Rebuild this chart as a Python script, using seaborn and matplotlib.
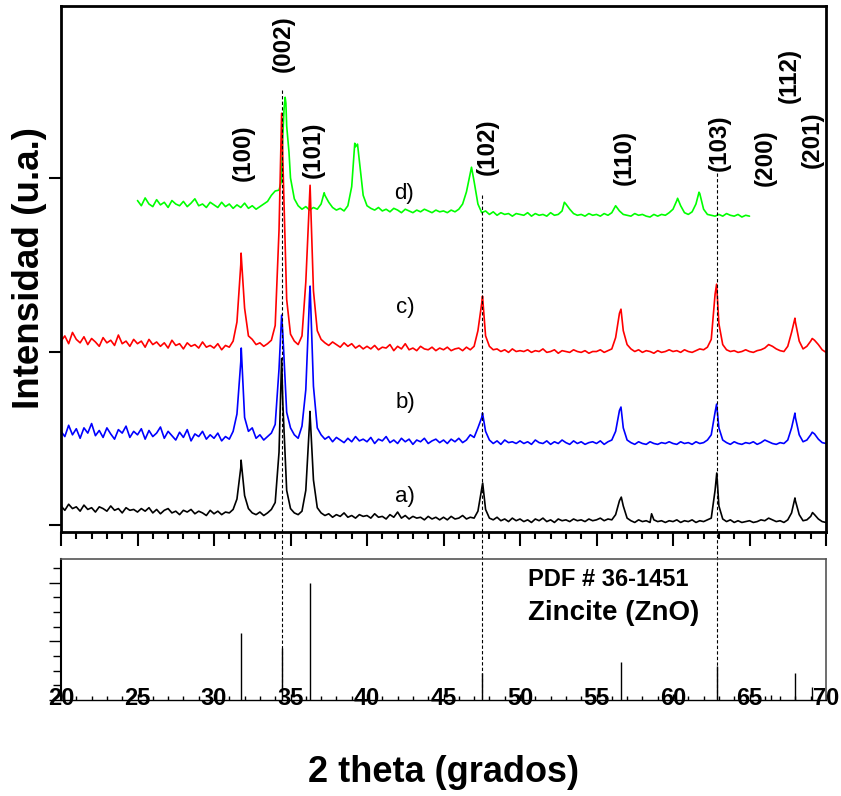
import numpy as np
import pandas as pd
import matplotlib
matplotlib.use("Agg")
import matplotlib.pyplot as plt
from matplotlib.ticker import MultipleLocator
import seaborn as sns

# =====================================================
# DATA  (counts, 0.25 deg scan grid)
# =====================================================

STEP = 0.25

# a) black, 20..70 deg, one row per 5 deg
a_grid = [
    110, 85, 120, 95, 105, 80, 115, 90, 100, 75, 105, 95, 80, 110, 85, 95, 70, 100, 85, 90,
    75, 95, 80, 100, 70, 90, 65, 85, 95, 70, 80, 60, 85, 75, 90, 65, 80, 70, 55, 85,
    65, 80, 60, 75, 70, 90, 150, 330, 170, 95, 70, 60, 75, 55, 70, 90, 130, 420, 700, 200,
    95, 70, 60, 80, 200, 600, 260, 100, 70, 55, 65, 45, 60, 50, 70, 45, 55, 40, 60, 50,
    55, 40, 65, 45, 50, 35, 60, 45, 75, 40, 55, 35, 50, 40, 45, 30, 50, 35, 45, 30,
    45, 30, 50, 35, 40, 55, 35, 45, 40, 80, 210, 90, 40, 30, 45, 25, 35, 20, 40, 25,
    35, 20, 30, 15, 35, 25, 40, 20, 30, 15, 35, 25, 30, 20, 35, 25, 30, 20, 35, 25,
    30, 40, 25, 35, 30, 60, 140, 110, 40, 25, 15, 30, 20, 25, 15, 30, 20, 25, 15, 25,
    20, 30, 15, 25, 20, 30, 15, 25, 20, 30, 40, 200, 110, 35, 20, 30, 15, 25, 15, 20,
    25, 15, 20, 30, 25, 40, 30, 20, 25, 15, 30, 70, 140, 60, 25, 30, 50, 60, 35, 20,
    15,
]
a_peak_x = [31.77, 34.42, 36.27, 47.56, 56.62, 58.60, 62.86, 67.97, 69.12]
a_peak_y = [374, 960, 655, 242, 161, 65, 300, 156, 72]

# b) blue
b_grid = [
    540, 510, 575, 520, 555, 500, 560, 530, 585, 515, 545, 505, 560, 525, 495, 550, 530, 570, 505, 540,
    520, 555, 495, 545, 510, 530, 565, 500, 540, 515, 490, 535, 505, 550, 485, 525, 510, 540, 495, 520,
    500, 530, 485, 510, 495, 540, 640, 940, 620, 540, 560, 500, 520, 490, 510, 530, 580, 900, 1100, 650,
    560, 520, 500, 570, 780, 1330, 800, 560, 520, 495, 510, 480, 505, 490, 475, 500, 480, 510, 485, 495,
    480, 505, 470, 495, 485, 510, 475, 490, 470, 500, 480, 495, 465, 490, 480, 500, 470, 485, 495, 475,
    490, 470, 495, 480, 500, 475, 490, 520, 505, 560, 620, 540, 490, 470, 485, 465, 490, 475, 480, 470,
    485, 470, 480, 465, 490, 475, 470, 485, 465, 480, 470, 490, 475, 465, 485, 470, 480, 465, 475, 480,
    470, 485, 465, 480, 490, 540, 660, 560, 490, 475, 465, 480, 470, 465, 480, 470, 465, 475, 470, 480,
    470, 465, 480, 470, 475, 465, 480, 470, 475, 490, 520, 650, 560, 490, 475, 465, 480, 470, 465, 475,
    470, 480, 465, 475, 490, 480, 470, 465, 475, 470, 490, 560, 620, 520, 480, 490, 520, 525, 495, 475,
    470,
]
b_peak_x = [31.78, 34.42, 36.28, 47.55, 56.60, 62.85, 67.97, 69.10]
b_peak_y = [1020, 1210, 1377, 645, 680, 697, 645, 535]

# c) red
c_grid = [
    1060, 1090, 1045, 1110, 1070, 1050, 1085, 1040, 1075, 1055, 1030, 1080, 1050, 1065, 1035, 1095, 1045, 1060, 1030, 1070,
    1045, 1060, 1025, 1070, 1040, 1055, 1030, 1050, 1020, 1065, 1035, 1045, 1015, 1050, 1030, 1040, 1020, 1055, 1025, 1035,
    1020, 1045, 1010, 1035, 1025, 1060, 1170, 1500, 1250, 1090, 1070, 1040, 1050, 1030, 1045, 1065, 1150, 1700, 2100, 1300,
    1100, 1060, 1040, 1090, 1400, 1900, 1350, 1120, 1070, 1050, 1035, 1055, 1040, 1025, 1050, 1030, 1045, 1020, 1035, 1015,
    1030, 1015, 1035, 1010, 1025, 1020, 1040, 1005, 1030, 1015, 1045, 1010, 1020, 1005, 1030, 1015, 1010, 1025, 1005, 1020,
    1010, 1025, 1005, 1015, 1020, 1005, 1025, 1010, 1030, 1120, 1280, 1090, 1030, 1010, 1015, 1000, 1010, 995, 1015, 1000,
    1005, 1000, 1010, 995, 1005, 1000, 1015, 995, 1000, 1010, 990, 1005, 1000, 995, 1010, 1000, 995, 1005, 990, 1000,
    1000, 1010, 995, 1005, 1015, 1080, 1220, 1120, 1040, 1015, 1000, 1010, 995, 1005, 1000, 990, 1005, 995, 1000, 1010,
    1000, 1005, 995, 1010, 1000, 995, 1005, 1015, 1010, 1025, 1070, 1330, 1160, 1040, 1010, 1000, 1005, 995, 1000, 1010,
    1000, 995, 1005, 1010, 1020, 1040, 1030, 1015, 1005, 1000, 1030, 1110, 1170, 1060, 1015, 1030, 1060, 1065, 1040, 1010,
    995,
]
c_peak_x = [31.77, 34.42, 36.28, 47.55, 56.60, 62.85, 67.97, 69.10]
c_peak_y = [1567, 2373, 1958, 1319, 1244, 1388, 1192, 1075]

# d) green, 25..65 deg
d_grid = [
    1870, 1840, 1885, 1850, 1835, 1875, 1845, 1860, 1830, 1870, 1850, 1840, 1865, 1835, 1855, 1880, 1840, 1850, 1830, 1860,
    1845, 1830, 1860, 1835, 1850, 1825, 1845, 1830, 1855, 1825, 1840, 1820, 1835, 1850, 1865, 1900, 1925, 1930, 2250, 2300,
    2000, 1880, 1840, 1820, 1835, 1815, 1830, 1820, 1850, 1900, 1860, 1830, 1815, 1825, 1810, 1840, 1950, 2180, 2100, 1900,
    1840, 1825, 1815, 1830, 1810, 1820, 1805, 1825, 1815, 1800, 1820, 1810, 1800, 1815, 1805, 1820, 1810, 1800, 1815, 1805,
    1810, 1800, 1815, 1805, 1820, 1850, 1920, 2030, 1980, 1850, 1800, 1810, 1790, 1805, 1785, 1800, 1790, 1795, 1780, 1795,
    1790, 1785, 1800, 1780, 1795, 1785, 1790, 1780, 1800, 1785, 1790, 1810, 1850, 1820, 1795, 1785, 1790, 1780, 1795, 1785,
    1790, 1780, 1795, 1785, 1800, 1840, 1810, 1790, 1785, 1780, 1795, 1785, 1790, 1780, 1775, 1790, 1780, 1790, 1785, 1800,
    1820, 1870, 1840, 1800, 1790, 1805, 1850, 1910, 1820, 1790, 1785, 1780, 1790, 1780, 1795, 1785, 1780, 1790, 1775, 1785,
    1780,
]
d_peak_x = [34.40, 34.58, 34.65, 34.70, 34.90, 37.20, 39.20, 39.38, 46.83, 52.90, 60.30, 61.70]
d_peak_y = [1980, 2400, 2465, 2430, 2150, 1915, 2200, 2195, 2062, 1860, 1883, 1918]

# reference pattern PDF # 36-1451 (zincite)
pdf_pos = [31.77, 34.42, 36.25, 47.54, 56.60, 62.86, 66.38, 67.96, 69.10]
pdf_int = [57, 44, 100, 23, 32, 29, 4, 23, 11]

# Miller index labels
hkl_text = ["(100)", "(002)", "(101)", "(102)", "(110)", "(103)", "(200)", "(112)", "(201)"]
hkl_x = [31.93, 34.54, 36.50, 47.88, 56.80, 63.04, 66.05, 67.60, 69.10]
hkl_y = [2143, 2776, 2160, 2183, 2120, 2206, 2120, 2592, 2223]

# sample labels
sample_text = ["a)", "b)", "c)", "d)"]
sample_x = [42.5, 42.5, 42.5, 42.4]
sample_y = [167, 709, 1256, 1908]

# dashed guide lines (2theta, top end in counts)
guide_x = [34.42, 47.54, 62.86]
guide_top = [2507, 1902, 2029]

# =====================================================
# BUILD TABLE
# =====================================================


def build(name, start, grid, px, py):
    x = start + STEP * np.arange(len(grid))
    x = np.concatenate([x, px])
    y = np.concatenate([np.asarray(grid, float), py])
    order = np.argsort(x, kind="stable")
    return pd.DataFrame({"two_theta": x[order], "counts": y[order], "sample": name})


df = pd.concat(
    [
        build("a", 20.0, a_grid, a_peak_x, a_peak_y),
        build("b", 20.0, b_grid, b_peak_x, b_peak_y),
        build("c", 20.0, c_grid, c_peak_x, c_peak_y),
        build("d", 25.0, d_grid, d_peak_x, d_peak_y),
    ],
    ignore_index=True,
)

palette = {"a": "#000000", "b": "#0000ff", "c": "#ff0000", "d": "#00ff00"}

# =====================================================
# PLOT
# =====================================================

sns.set_style("ticks")
plt.rcParams["font.family"] = ["Liberation Sans", "DejaVu Sans"]
plt.rcParams["text.color"] = "black"
plt.rcParams["axes.labelcolor"] = "black"
plt.rcParams["xtick.color"] = "black"
plt.rcParams["ytick.color"] = "black"
plt.rcParams["axes.edgecolor"] = "black"

W, H = 841, 796
fig = plt.figure(figsize=(W / 100, H / 100), dpi=100)

ax = fig.add_axes([61 / W, 1 - 532 / H, 765 / W, 526 / H])
ax_ref = fig.add_axes([61 / W, 1 - 700 / H, 765 / W, 141 / H])
ax_ref.set_facecolor("none")

sns.lineplot(
    data=df,
    x="two_theta",
    y="counts",
    hue="sample",
    palette=palette,
    hue_order=["d", "c", "b", "a"],
    estimator=None,
    sort=False,
    lw=1.2,
    legend=False,
    ax=ax,
)

ax.set_xlim(20, 70)
ax.set_ylim(-40, 2991)
ax.set_xlabel("")
ax.set_ylabel("")
ax.xaxis.set_major_locator(MultipleLocator(5))
ax.xaxis.set_minor_locator(MultipleLocator(1))
ax.set_yticks([0, 1000, 2000])
ax.tick_params(axis="x", which="major", direction="out", length=10, width=1.5,
               labelbottom=False)
ax.tick_params(axis="x", which="minor", direction="out", length=5, width=1.5)
ax.tick_params(axis="y", which="major", direction="out", length=9, width=1.5,
               labelleft=False)
for s in ax.spines.values():
    s.set_linewidth(2)
    s.set_color("black")

for t, x, y in zip(hkl_text, hkl_x, hkl_y):
    ax.text(x, y, t, rotation=90, ha="center", va="center",
            fontsize=17.5, fontweight="bold", color="black")

for t, x, y in zip(sample_text, sample_x, sample_y):
    ax.text(x, y, t, ha="center", va="center", fontsize=16, color="black")

for x, y in zip(guide_x, guide_top):
    ax.plot([x, x], [y, -1009], color="black", lw=0.8,
            ls=(0, (3, 2)), clip_on=False, zorder=5)

# reference sticks
ax_ref.vlines(pdf_pos, 0, pdf_int, color="black", lw=1.0)
ax_ref.set_xlim(20, 70)
ax_ref.set_ylim(0, 120)
ax_ref.xaxis.set_minor_locator(MultipleLocator(1))
ax_ref.yaxis.set_major_locator(MultipleLocator(50))
ax_ref.yaxis.set_minor_locator(MultipleLocator(12.5))
ax_ref.set_xticks(np.arange(20, 71, 5))
ax_ref.set_xticklabels([str(v) for v in range(20, 71, 5)],
                       fontsize=17, fontweight="bold")
ax_ref.tick_params(axis="x", which="major", direction="in", length=4, width=1,
                   pad=-9.5)
ax_ref.tick_params(axis="x", which="minor", direction="in", length=3, width=1)
ax_ref.tick_params(axis="y", which="major", direction="out", length=9, width=1,
                   labelleft=False)
ax_ref.tick_params(axis="y", which="minor", direction="out", length=6, width=1)
ax_ref.spines["left"].set_linewidth(1.5)
ax_ref.spines["left"].set_color("black")
ax_ref.spines["bottom"].set_linewidth(1.0)
ax_ref.spines["bottom"].set_color("black")
for side in ["top", "right"]:
    ax_ref.spines[side].set_linewidth(1.2)
    ax_ref.spines[side].set_color("#555555")

ax_ref.text(528 / W, 1 - 579 / H, "PDF # 36-1451", transform=fig.transFigure,
            ha="left", va="center", fontsize=17, fontweight="bold")
ax_ref.text(528 / W, 1 - 613 / H, "Zincite (ZnO)", transform=fig.transFigure,
            ha="left", va="center", fontsize=20, fontweight="bold")

fig.text(30 / W, 1 - 268 / H, "Intensidad (u.a.)", rotation=90,
         ha="center", va="center", fontsize=26.5, fontweight="bold")
fig.text(443 / W, 1 - 773 / H, "2 theta (grados)",
         ha="center", va="center", fontsize=26, fontweight="bold")

fig.savefig("out.png", dpi=100)
plt.close(fig)
